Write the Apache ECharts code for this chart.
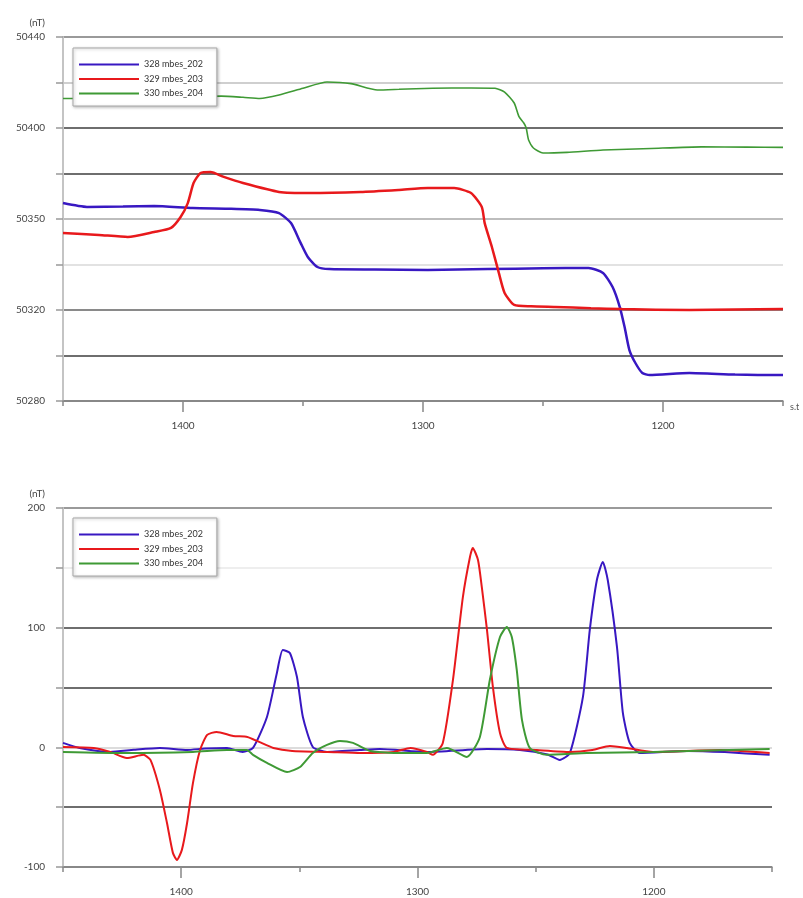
<!DOCTYPE html>
<html>
<head>
<meta charset="utf-8">
<script src="https://cdn.jsdelivr.net/npm/echarts@6/dist/echarts.min.js"></script>
<style>
html, body { margin: 0; padding: 0; background: #fff; }
#chart { width: 803px; height: 898px; }
</style>
</head>
<body>
<div id="chart"></div>
<script>
// legend names / colours
const seriesNames = ['328 mbes_202', '329 mbes_203', '330 mbes_204'];
const seriesColors = ['#3818c2', '#e8191c', '#3f9a35'];

// x axis (distance, decreasing to the right)
const distLabelTicks = [1200, 1300, 1400];

// y tick labels as printed on the original
const topTickValues = [50280, 50320, 50360, 50400, 50440];
const topTickLabels = ['50280', '50320', '50350', '50400', '50440'];
const bottomTickValues = [-100, 0, 100, 200];
const bottomTickLabels = ['-100', '0', '100', '200'];

// top panel: total field
const topBlueX = [1450, 1440, 1425, 1412, 1396, 1380, 1368, 1360, 1355, 1351, 1348, 1344, 1339, 1320, 1298, 1273, 1250, 1231, 1225, 1221, 1218, 1216, 1214, 1211.5, 1208.6, 1205.6, 1189, 1170, 1150];
const topBlueY = [50367, 50365.3, 50365.5, 50365.7, 50364.8, 50364.5, 50364, 50362.6, 50358.2, 50349.5, 50343.3, 50338.9, 50338, 50337.8, 50337.6, 50338, 50338.3, 50338.5, 50336.3, 50330.1, 50321.3, 50312.5, 50302.4, 50296.7, 50292.3, 50291.4, 50292.3, 50291.6, 50291.4];

const topRedX = [1450, 1435, 1423, 1412, 1405, 1401, 1398, 1395.6, 1392.7, 1388.5, 1383, 1375, 1360, 1347, 1326, 1310, 1298, 1287, 1280, 1275.5, 1274.3, 1271.3, 1268.4, 1266, 1262, 1255, 1245, 1230, 1217, 1189, 1170, 1150];
const topRedY = [50353.9, 50353, 50352.1, 50354.3, 50356.1, 50360.9, 50367, 50375.8, 50380.2, 50380.7, 50378.5, 50375.8, 50371.9, 50371.4, 50371.9, 50372.8, 50373.6, 50373.6, 50371.4, 50365.3, 50358.2, 50347.7, 50336.3, 50327.5, 50322.2, 50321.6, 50321.3, 50320.8, 50320.4, 50320, 50320.2, 50320.4];

const topGreenX = [1450, 1440, 1425, 1410, 1395, 1384, 1375, 1368, 1360, 1350, 1340, 1330, 1319, 1310, 1296, 1280, 1270, 1266, 1262, 1260, 1258, 1257, 1256, 1254, 1250, 1240, 1225, 1205, 1184, 1165, 1150];
const topGreenY = [50413, 50413, 50413.3, 50413.5, 50413.8, 50414, 50413.5, 50413, 50414.5, 50417.5, 50420.2, 50419.5, 50416.7, 50417, 50417.5, 50417.6, 50417.5, 50415.8, 50411, 50405, 50402.2, 50400, 50394.7, 50391.2, 50389, 50389.3, 50390.3, 50391, 50391.7, 50391.6, 50391.5];

// bottom panel: residual anomaly
const botBlueX = [1450, 1443, 1430, 1420, 1409, 1397.5, 1390, 1380.6, 1374, 1369.6, 1363.7, 1359.5, 1357, 1354, 1351, 1348.5, 1344.3, 1338.3, 1324.4, 1316, 1296, 1270.6, 1256.7, 1245, 1239.8, 1235.5, 1230, 1227.1, 1224.1, 1221.6, 1219.5, 1215.6, 1213.1, 1210.2, 1206, 1186, 1170, 1151];
const botBlueY = [3.7, -0.5, -3.8, -2, -0.5, -2.2, -1, -0.5, -3.8, -0.5, 25.4, 62.2, 81.4, 78.9, 58.8, 25.4, 0.3, -3.8, -2.2, -1.3, -3.8, -1.3, -2.2, -6, -10.5, -4.7, 42.1, 98.1, 139.8, 154.9, 139.8, 83.9, 28.7, 3.7, -4.7, -3, -4, -6.3];

const botRedX = [1450, 1437, 1430, 1423, 1416, 1413, 1409, 1406, 1403.5, 1401.8, 1399.7, 1397.5, 1395, 1392, 1389, 1385, 1378, 1372, 1367, 1361, 1353, 1338, 1324, 1310, 1303, 1296, 1293.5, 1289.3, 1285, 1280.8, 1277.8, 1276.6, 1274.4, 1272.8, 1270.6, 1268.1, 1265.1, 1262.2, 1249.5, 1235.5, 1226, 1218.6, 1211.4, 1200.4, 1172, 1151];
const botRedY = [0.3, -0.5, -3.8, -8.9, -6.3, -10.5, -35.6, -63.2, -88.2, -94.1, -85.7, -63.2, -29.7, -2.2, 10.4, 12.9, 9.5, 8.7, 4.5, -0.5, -3, -3.8, -4.7, -3.8, -0.5, -3.8, -6.3, 3.7, 56.3, 125.6, 159.1, 166.6, 156.6, 134, 98.1, 50.5, 12, -0.5, -2.2, -3.8, -2.2, 1.2, -0.5, -3.8, -2.2, -4.7];

const botGreenX = [1450, 1423, 1395, 1380.6, 1372.2, 1369.6, 1363.7, 1355.2, 1349.7, 1344.3, 1338.3, 1332.8, 1327.3, 1320, 1310, 1296, 1287.6, 1279.1, 1273.6, 1269.4, 1265.1, 1262.2, 1260.1, 1258, 1255.8, 1252.5, 1245.3, 1228.3, 1200.4, 1151];
const botGreenY = [-3.8, -4.7, -3.8, -2.2, -2.2, -6.3, -13, -20.6, -16.4, -4.7, 2, 5.3, 3.7, -3, -4.7, -4.7, -0.5, -8, 8.7, 56.3, 92.2, 100.6, 92.2, 64.7, 22.9, -0.5, -6.3, -4.7, -3.8, -1.3];

const zip = (xs, ys) => xs.map((x, i) => [x, ys[i]]);

const FONT = 'Lato, "Liberation Sans", sans-serif';

// grid line shades, from min upwards
const topGridColors = ['#888', '#6e6e6e', '#8a8a8a', '#e2e2e2', '#bdbdbd', '#6e6e6e', '#6e6e6e', '#cfcfcf', '#9a9a9a'];
const botGridColors = ['#888', '#6e6e6e', '#dcdcdc', '#6e6e6e', '#6e6e6e', '#eeeeee', '#9a9a9a'];

function distAxes(gridIndex, name) {
    return [{
        gridIndex,
        type: 'value',
        min: 1150,
        max: 1450,
        interval: 50,
        inverse: true,
        position: 'bottom',
        name: name,
        // axis is inverted, so 'start' sits at the right end
        nameLocation: 'start',
        nameGap: 7,
        nameTextStyle: { fontFamily: FONT, fontSize: 9, color: '#555', align: 'left', verticalAlign: 'top', padding: [2, 0, 0, 0] },
        axisLine: { show: true, onZero: false, lineStyle: { color: '#888', width: 1.5 } },
        axisTick: { show: true, length: 5, lineStyle: { color: '#888', width: 1.5 } },
        axisLabel: {
            margin: 20, fontFamily: FONT, fontSize: 10, color: '#444',
            formatter: v => distLabelTicks.includes(v) ? String(v) : '',
        },
        splitLine: { show: false },
    }, {
        gridIndex,
        type: 'value',
        min: 1150,
        max: 1450,
        inverse: true,
        position: 'bottom',
        axisLine: { show: false, onZero: false },
        axisTick: { show: true, length: 11, customValues: distLabelTicks, lineStyle: { color: '#888', width: 1.5 } },
        axisLabel: { show: false },
        splitLine: { show: false },
    }];
}

function fieldAxis(gridIndex, min, max, interval, tickValues, tickLabels, gridColors) {
    return {
        gridIndex,
        type: 'value',
        min, max, interval,
        name: '(nT)',
        nameLocation: 'end',
        nameGap: 9,
        nameTextStyle: { fontFamily: FONT, fontSize: 10, color: '#444', align: 'right', padding: [0, 18, 0, 0] },
        axisLine: { show: true, lineStyle: { color: '#c4c4c4', width: 2 } },
        axisTick: { show: true, length: 7, lineStyle: { color: '#999', width: 1.5 } },
        axisLabel: {
            margin: 18, fontFamily: FONT, fontSize: 10, color: '#444',
            formatter: v => {
                const i = tickValues.indexOf(v);
                return i >= 0 ? tickLabels[i] : '';
            },
        },
        splitLine: { show: true, lineStyle: { color: gridColors, width: 2 } },
    };
}

function lineSeries(idx, xAxisIndex, yAxisIndex, xs, ys, width) {
    return {
        name: seriesNames[idx],
        type: 'line',
        xAxisIndex, yAxisIndex,
        data: zip(xs, ys),
        symbol: 'none',
        smooth: 0.2,
        lineStyle: { color: seriesColors[idx], width },
        itemStyle: { color: seriesColors[idx] },
    };
}

function legendBox(top) {
    return {
        orient: 'vertical',
        left: 73,
        top,
        data: seriesNames,
        itemWidth: 60,
        itemHeight: 9,
        itemGap: 5.5,
        padding: [12, 14, 8, 5],
        // plain line keys, no marker dot
        itemStyle: { color: 'rgba(0,0,0,0)', borderWidth: 0, borderColor: 'rgba(0,0,0,0)' },
        backgroundColor: '#fff',
        borderColor: '#a8a8a8',
        borderWidth: 1,
        shadowColor: 'rgba(0,0,0,0.25)',
        shadowBlur: 3,
        shadowOffsetX: 1,
        shadowOffsetY: 1,
        selectedMode: false,
        textStyle: { fontFamily: FONT, fontSize: 9, color: '#333' },
    };
}

const chart = echarts.init(document.getElementById('chart'), null, { renderer: 'canvas' });

chart.setOption({
    animation: false,
    backgroundColor: '#fff',
    grid: [
        { left: 63, top: 37, width: 720, height: 364 },
        { left: 63, top: 508, width: 709, height: 359 },
    ],
    legend: [legendBox(48), legendBox(518)],
    xAxis: [...distAxes(0, 's.t'), ...distAxes(1, '')],
    yAxis: [
        fieldAxis(0, 50280, 50440, 20, topTickValues, topTickLabels, topGridColors),
        fieldAxis(1, -100, 200, 50, bottomTickValues, bottomTickLabels, botGridColors),
    ],
    series: [
        lineSeries(0, 0, 0, topBlueX, topBlueY, 2.5),
        lineSeries(1, 0, 0, topRedX, topRedY, 2.5),
        lineSeries(2, 0, 0, topGreenX, topGreenY, 1.6),
        lineSeries(0, 2, 1, botBlueX, botBlueY, 2),
        lineSeries(1, 2, 1, botRedX, botRedY, 2),
        lineSeries(2, 2, 1, botGreenX, botGreenY, 2),
    ],
});
</script>
</body>
</html>
